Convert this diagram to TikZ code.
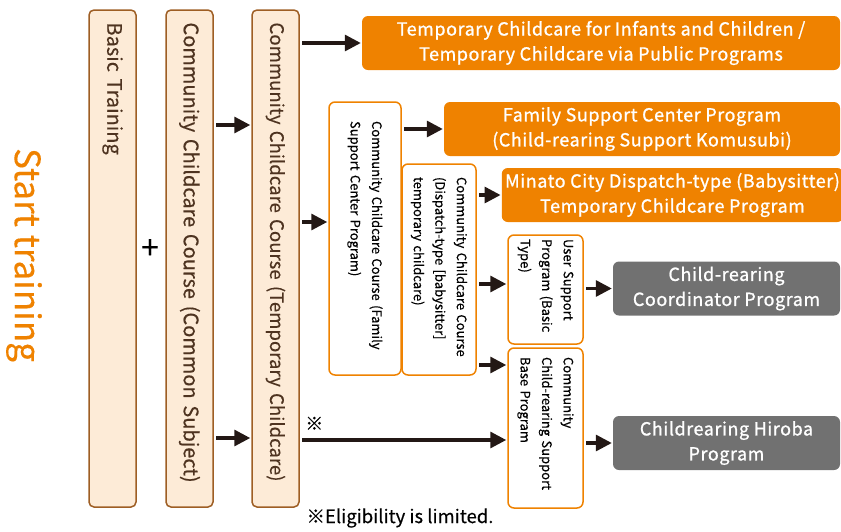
\documentclass[tikz,border=0pt]{standalone}
\usepackage{fontspec}
\setmainfont{Noto Sans CJK JP}[FakeBold=0.3]
\newfontfamily\progfont{Noto Sans CJK JP}[FakeBold=1,LetterSpace=3]
\usepackage{xcolor}
\usetikzlibrary{arrows.meta}

\definecolor{orangeb}{HTML}{EF8200}
\definecolor{beige}{HTML}{FDEBD7}
\definecolor{brownb}{HTML}{9E5E24}
\definecolor{browntxt}{HTML}{4E3320}
\definecolor{greyb}{HTML}{717171}
\definecolor{arrowc}{HTML}{231815}

\begin{document}
\begin{tikzpicture}[x=1pt, y=-1pt,
    arr/.style={draw=arrowc, line width=3.2pt, -{Triangle[length=16pt,width=16pt]}, shorten <=2.5pt, shorten >=1pt},
    course/.style={rotate=-90, draw=brownb, fill=beige, line width=1.5pt, rounded corners=5pt,
      minimum width=497pt, minimum height=47pt, inner xsep=0pt, text width=472pt, align=left,
      text=browntxt, font=\fontsize{20}{24}\selectfont},
    subcourse/.style={rotate=-90, draw=orangeb, fill=white, line width=1.5pt, rounded corners=6pt,
      inner xsep=0pt, align=left, font=\fontsize{13}{21.5}\selectfont},
    program/.style={fill=orangeb, text=white, rounded corners=6pt, align=center,
      minimum height=54pt, font=\progfont\fontsize{18}{25}\selectfont},
    greyprog/.style={program, fill=greyb}]
  \useasboundingbox (0,0) rectangle (841,531);

  % training courses
  \node[rotate=-90, text=orangeb, font=\fontsize{35}{40}\selectfont] (start) at (24,255) {Start training};
  \node[course] (basic) at (112.5,258.5) {Basic Training};
  \node[font=\fontsize{32}{34}\selectfont] (plus) at (150,249) {+};
  \node[course] (common) at (189.5,258.5) {Community Childcare Course (Common Subject)};
  \node[course, font=\fontsize{18.6}{24}\selectfont] (temp) at (275.5,258.5) {Community Childcare Course (Temporary Childcare)};

  % follow-up courses
  \node[subcourse, minimum width=273pt, minimum height=72pt, text width=235pt] (family) at (365,238.5)
    {Community Childcare Course (Family\\Support Center Program)};
  \node[subcourse, minimum width=211pt, minimum height=74pt, text width=185pt] (dispatch) at (439,269.5)
    {Community Childcare Course\\(Dispatch-type [babysitter]\\temporary childcare)};
  \node[subcourse, minimum width=109pt, minimum height=75pt, text width=101pt] (user) at (545.5,289.5)
    {User Support\\Program (Basic\\Type)};
  \node[subcourse, minimum width=160pt, minimum height=75pt, text width=142pt] (base) at (545.5,428)
    {Community\\Child-rearing Support\\Base Program};

  % programs
  \node[program, minimum width=478pt] (tempcare) at (601,43)
    {Temporary Childcare for Infants and Children /\\Temporary Childcare via Public Programs};
  \node[program, minimum width=396pt] (famprog) at (642,129)
    {Family Support Center Program\\(Child-rearing Support Komusubi)};
  \node[program, minimum width=335pt] (minato) at (672.5,195)
    {Minato City Dispatch-type (Babysitter)\\Temporary Childcare Program};
  \node[greyprog, minimum width=227pt] (coord) at (726.5,288.5)
    {Child-rearing\\Coordinator Program};
  \node[greyprog, minimum width=227pt] (hiroba) at (726.5,443)
    {Childrearing Hiroba\\Program};

  \node[anchor=west, font=\fontsize{18.5}{20}\selectfont] (note) at (303,518) {※Eligibility is limited.};

  % arrow rows
  \coordinate (up) at (0,125);
  \coordinate (low) at (0,438);
  \coordinate (fam) at (0,222);
  \coordinate (usr) at (0,284);
  \coordinate (bas) at (0,365);
  \coordinate (elig) at (0,440);

  \draw[arr] (common.north |- up) -- (temp.south |- up);
  \draw[arr] (common.north |- low) -- (temp.south |- low);
  \draw[arr] (temp.north |- tempcare.west) -- (tempcare.west);
  \draw[arr] (temp.north |- fam) -- (family.south |- fam);
  \draw[arr] (family.north |- famprog.west) -- (famprog.west);
  \draw[arr] (dispatch.north |- minato.west) -- (minato.west);
  \draw[arr] (dispatch.north |- usr) -- (user.south |- usr);
  \draw[arr] (dispatch.north |- bas) -- (base.south |- bas);
  \draw[arr] (temp.north |- elig) -- node[above=5pt, pos=0.07, font=\fontsize{18}{20}\selectfont] {※} (base.south |- elig);
  \draw[arr] (user.north |- coord.west) -- (coord.west);
  \draw[arr] (base.north |- hiroba.west) -- (hiroba.west);
\end{tikzpicture}
\end{document}
